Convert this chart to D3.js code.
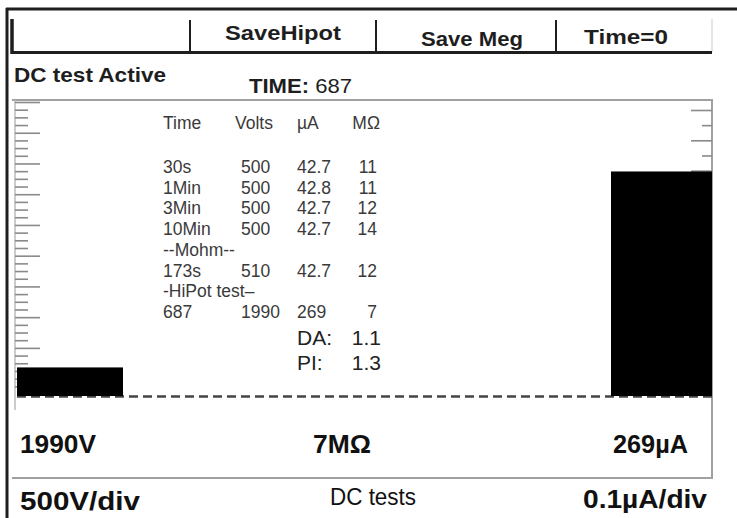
<!DOCTYPE html>
<html>
<head>
<meta charset="utf-8">
<script src="https://cdn.jsdelivr.net/npm/d3@7"></script>
<style>
	html, body { margin: 0; padding: 0; background: #fff; }
	svg { display: block; }
	text { font-family: "Liberation Sans", Arial, sans-serif; }
</style>
</head>
<body>
<svg id="chart" width="737" height="518"></svg>
<script>
// --- data ---
var buttonLabels = ["", "SaveHipot", "Save Meg", "Time=0"];
var tableHeader = ["Time", "Volts", "\u00b5A", "M\u03a9"];
var tableRows = [
	["30s", "500", "42.7", "11"],
	["1Min", "500", "42.8", "11"],
	["3Min", "500", "42.7", "12"],
	["10Min", "500", "42.7", "14"],
	["--Mohm--"],
	["173s", "510", "42.7", "12"],
	["-HiPot test\u2013"],
	["687", "1990", "269", "7"]
];
var ratioLabels = ["DA:", "PI:"];
var ratioValues = ["1.1", "1.3"];

var testTime = 687;
var hipotVolts = 1990;      // V
var hipotCurrent = 269;     // uA
var hipotMohm = 7;

var voltStep = 500, voltMax = 19000;   // left scale, 500V/div
var currStep = 18, currMax = 342;      // right scale

var svg = d3.select("#chart");
var dark = "#1e1e1e", grey = "#a0a0a0", ink = "#3a3a3a";

// squeeze/stretch a label to the width it has on the screen
function fit(sel, w) {
	sel.attr("textLength", w).attr("lengthAdjust", "spacingAndGlyphs");
}

// --- outer frame ---
svg.append("line").attr("x1", 6).attr("x2", 737).attr("y1", 9).attr("y2", 9)
	.attr("stroke", dark).attr("stroke-width", 3);
svg.append("line").attr("x1", 7).attr("x2", 7).attr("y1", 8).attr("y2", 518)
	.attr("stroke", dark).attr("stroke-width", 3);

// --- button bar ---
var barLeft = 12, barRight = 712;
var divX = [barLeft, 190, 376, 556, barRight];
var btn = svg.append("g").attr("class", "buttons");
btn.append("line").attr("x1", barRight).attr("x2", barRight).attr("y1", 19).attr("y2", 52)
	.attr("stroke", "#ddd").attr("stroke-width", 1.5);
btn.selectAll("line.div").data(divX.slice(1, 4)).enter().append("line")
	.attr("class", "div")
	.attr("x1", function(d) { return d; }).attr("x2", function(d) { return d; })
	.attr("y1", 20).attr("y2", 52)
	.attr("stroke", dark).attr("stroke-width", 2);
btn.append("line").attr("x1", barLeft).attr("x2", barLeft).attr("y1", 19).attr("y2", 54)
	.attr("stroke", dark).attr("stroke-width", 3.5);
btn.append("line").attr("x1", barLeft).attr("x2", barRight).attr("y1", 52.5).attr("y2", 52.5)
	.attr("stroke", dark).attr("stroke-width", 3);
var btnBase = [40, 40, 46, 44];
var btnW = [0, 116, 102, 84];
var btnC = [0, 283, 472, 626];
btn.selectAll("text").data(buttonLabels).enter().append("text")
	.filter(function(d) { return d; })
	.attr("x", function(d) { return btnC[buttonLabels.indexOf(d)]; })
	.attr("y", function(d) { return btnBase[buttonLabels.indexOf(d)]; })
	.attr("text-anchor", "middle")
	.attr("font-size", 21).attr("font-weight", "bold").attr("fill", dark)
	.text(function(d) { return d; })
	.each(function(d) { fit(d3.select(this), btnW[buttonLabels.indexOf(d)]); });

// --- status line ---
svg.append("text").attr("x", 14).attr("y", 82)
	.attr("font-size", 21).attr("font-weight", "bold").attr("fill", dark)
	.text("DC test Active").call(fit, 152);
var tt = svg.append("text").attr("x", 249).attr("y", 93)
	.attr("font-size", 21).attr("fill", dark);
tt.append("tspan").attr("font-weight", "bold").text("TIME: ");
tt.append("tspan").text(testTime);
tt.call(fit, 103);

// --- plot panel ---
var panelTop = 100, base = 398, panelBottom = 478;
var panel = svg.append("g").attr("class", "panel");
panel.append("path")
	.attr("d", "M" + barLeft + "," + panelTop + "H" + barRight + "V" + panelBottom + "H" + barLeft)
	.attr("fill", "none").attr("stroke", grey).attr("stroke-width", 2);
panel.append("line").attr("x1", 15).attr("x2", 15).attr("y1", panelTop).attr("y2", 410)
	.attr("stroke", "#bbb").attr("stroke-width", 1.5);

var yVolt = d3.scaleLinear().domain([0, voltMax]).range([base, base - 292]);
var yCurr = d3.scaleLinear().domain([0, currMax]).range([base, 110]);

var voltTicks = d3.range(voltStep, voltMax + 1, voltStep);
var voltMajor = voltTicks.filter(function(v) { return (v / voltStep) % 4 === 2; });
var voltMinor = voltTicks.filter(function(v) { return (v / voltStep) % 4 !== 2; });

function tickStyle(g) {
	g.select(".domain").remove();
	g.selectAll(".tick line").attr("stroke", "#8a8a8a").attr("stroke-width", 1.6);
	g.selectAll(".tick text").remove();
}

panel.append("g").attr("transform", "translate(15,-4)")
	.call(d3.axisRight(yVolt).tickValues(voltMinor).tickSize(13).tickFormat(""))
	.call(tickStyle);
panel.append("g").attr("transform", "translate(15,-4)")
	.call(d3.axisRight(yVolt).tickValues(voltMajor).tickSize(25).tickFormat(""))
	.call(tickStyle);

var currTicks = d3.range(currStep, currMax + 1, currStep);
panel.append("g").attr("transform", "translate(712,0)")
	.call(d3.axisLeft(yCurr).tickValues(currTicks.filter(function(v) { return (v / currStep) % 2 === 0; }))
		.tickSize(10).tickFormat(""))
	.call(tickStyle);
panel.append("g").attr("transform", "translate(712,0)")
	.call(d3.axisLeft(yCurr).tickValues(currTicks.filter(function(v) { return (v / currStep) % 2 === 1; }))
		.tickSize(21).tickFormat(""))
	.call(tickStyle);

// baseline dashes
panel.append("line").attr("x1", 17).attr("x2", 712).attr("y1", 396.5).attr("y2", 396.5)
	.attr("stroke", "#444").attr("stroke-width", 2.5).attr("stroke-dasharray", "9,5");

// bars
var bars = [
	{ x0: 17, x1: 123, y: yVolt(hipotVolts) },
	{ x0: 611, x1: 712, y: yCurr(hipotCurrent) }
];
panel.selectAll("rect.bar").data(bars).enter().append("rect")
	.attr("class", "bar")
	.attr("x", function(d) { return d.x0; })
	.attr("width", function(d) { return d.x1 - d.x0; })
	.attr("y", function(d) { return d.y; })
	.attr("height", function(d) { return 396 - d.y; })
	.attr("fill", "#000");

// --- results table ---
var colX = [163, 241, 297, 377];
var hdrX = [163, 235, 297, 380];
var table = svg.append("g").attr("class", "table").attr("font-size", 17.5).attr("fill", ink);
table.selectAll("text.hdr").data(tableHeader).enter().append("text")
	.attr("class", "hdr")
	.attr("x", function(d, i) { return hdrX[i]; })
	.attr("y", 129)
	.attr("text-anchor", function(d, i) { return i === 3 ? "end" : "start"; })
	.text(function(d) { return d; });

var rowY = d3.scaleLinear().domain([0, 1]).range([173, 193.7]);
var rows = table.selectAll("g.row").data(tableRows).enter().append("g")
	.attr("class", "row")
	.attr("transform", function(d, i) { return "translate(0," + rowY(i) + ")"; });
rows.selectAll("text").data(function(d) { return d; }).enter().append("text")
	.attr("x", function(d, i) { return colX[i]; })
	.attr("text-anchor", function(d, i) { return i === 3 ? "end" : "start"; })
	.text(function(d) { return d; });

var ratios = svg.append("g").attr("font-size", 21).attr("fill", "#222");
ratios.selectAll("text.lbl").data(ratioLabels).enter().append("text")
	.attr("x", 297).attr("y", function(d, i) { return 345 + i * 25; })
	.text(function(d) { return d; });
ratios.selectAll("text.val").data(ratioValues).enter().append("text")
	.attr("x", 381).attr("text-anchor", "end")
	.attr("y", function(d, i) { return 345 + i * 25; })
	.text(function(d) { return d; });

// --- readouts ---
var readouts = svg.append("g").attr("font-weight", "bold").attr("fill", "#111").attr("font-size", 26);
readouts.append("text").attr("x", 20).attr("y", 453).text(hipotVolts + "V").call(fit, 76);
readouts.append("text").attr("x", 313).attr("y", 453).text(hipotMohm + "M\u03a9").call(fit, 58);
readouts.append("text").attr("x", 613).attr("y", 453).text(hipotCurrent + "\u00b5A").call(fit, 75);

var footer = svg.append("g").attr("fill", "#111").attr("font-size", 26);
footer.append("text").attr("x", 20).attr("y", 510).attr("font-weight", "bold")
	.text(voltStep + "V/div").call(fit, 120);
footer.append("text").attr("x", 330).attr("y", 505).attr("font-size", 24)
	.text("DC tests").call(fit, 86);
footer.append("text").attr("x", 583).attr("y", 508).attr("font-weight", "bold")
	.text("0.1\u00b5A/div").call(fit, 124);
</script>
</body>
</html>
